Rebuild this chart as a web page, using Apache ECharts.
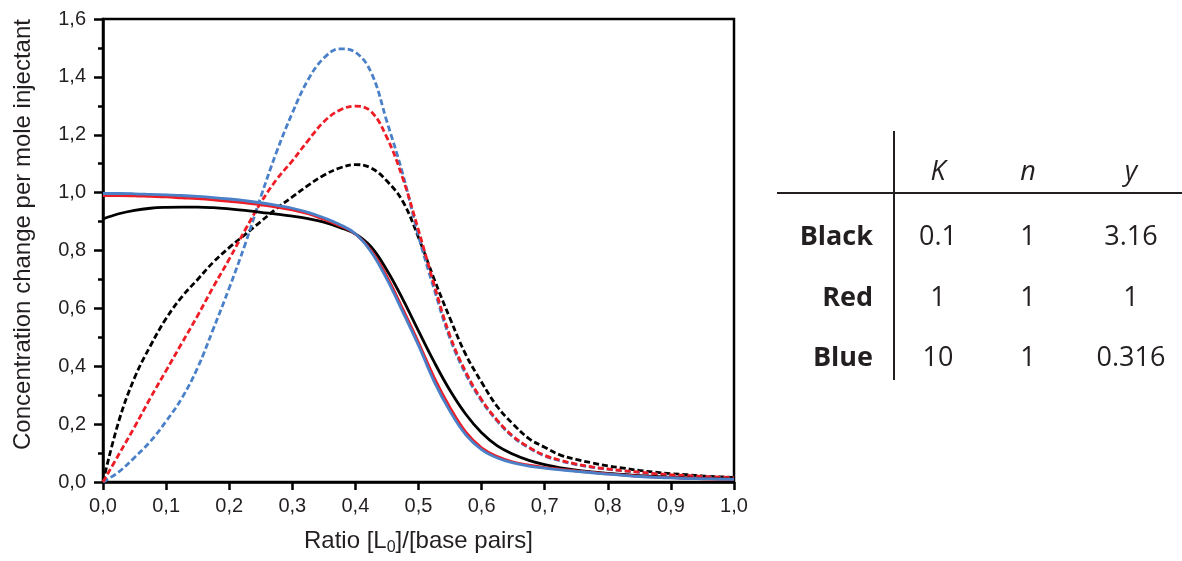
<!DOCTYPE html>
<html>
<head>
<meta charset="utf-8">
<script src="https://cdn.jsdelivr.net/npm/echarts@6/dist/echarts.min.js"></script>
<style>
html,body{margin:0;padding:0;background:#fff;}
#c{width:1182px;height:561px;}
</style>
</head>
<body>
<div id="c"></div>
<script>
// Ratio [L0]/[base pairs] sample positions
const xs = [0,0.025,0.05,0.075,0.1,0.125,0.15,0.175,0.2,0.225,0.25,0.275,0.3,0.325,0.35,0.375,0.4,0.425,0.45,0.475,0.5,0.525,0.55,0.575,0.6,0.625,0.65,0.675,0.7,0.725,0.75,0.775,0.8,0.825,0.85,0.875,0.9,0.925,0.95,0.975,1.0];

const blackSolid = [0.909,0.927,0.939,0.946,0.949,0.950,0.950,0.948,0.944,0.939,0.932,0.926,0.919,0.910,0.898,0.880,0.857,0.812,0.732,0.632,0.522,0.414,0.316,0.234,0.170,0.125,0.096,0.075,0.060,0.049,0.041,0.035,0.030,0.026,0.022,0.019,0.016,0.014,0.012,0.011,0.010];
const redSolid = [0.990,0.990,0.989,0.987,0.985,0.982,0.979,0.975,0.970,0.965,0.958,0.950,0.940,0.927,0.908,0.886,0.857,0.800,0.710,0.598,0.482,0.360,0.257,0.172,0.118,0.088,0.069,0.058,0.050,0.044,0.038,0.033,0.028,0.024,0.020,0.017,0.015,0.013,0.011,0.010,0.009];
const blueSolid = [0.997,0.997,0.996,0.994,0.992,0.990,0.987,0.983,0.978,0.972,0.965,0.956,0.946,0.932,0.913,0.890,0.858,0.795,0.700,0.588,0.472,0.346,0.244,0.163,0.112,0.083,0.066,0.055,0.048,0.042,0.037,0.032,0.027,0.023,0.019,0.016,0.014,0.012,0.011,0.010,0.009];

const blackDashed = [0,0.21,0.36,0.47,0.565,0.64,0.70,0.76,0.81,0.855,0.90,0.945,0.985,1.025,1.06,1.085,1.097,1.085,1.04,0.97,0.845,0.70,0.565,0.44,0.345,0.26,0.20,0.15,0.12,0.093,0.078,0.066,0.056,0.048,0.040,0.034,0.029,0.025,0.021,0.018,0.016];
const redDashed = [0,0.095,0.19,0.29,0.385,0.48,0.575,0.675,0.77,0.87,0.965,1.045,1.11,1.18,1.245,1.285,1.299,1.28,1.19,1.05,0.87,0.68,0.505,0.38,0.285,0.213,0.158,0.12,0.092,0.075,0.062,0.052,0.045,0.039,0.034,0.029,0.025,0.022,0.019,0.017,0.015];
const blueDashed = [0,0.035,0.085,0.14,0.21,0.29,0.395,0.53,0.67,0.82,0.985,1.14,1.275,1.39,1.465,1.497,1.485,1.415,1.245,1.065,0.85,0.665,0.495,0.372,0.28,0.21,0.155,0.118,0.09,0.073,0.06,0.051,0.044,0.038,0.033,0.028,0.024,0.021,0.018,0.016,0.014];

const xTickLabels = ['0,0','0,1','0,2','0,3','0,4','0,5','0,6','0,7','0,8','0,9','1,0'];
const yTickLabels = ['0,0','0,2','0,4','0,6','0,8','1,0','1,2','1,4','1,6'];

// Parameter table
const tableHeader = ['K','n','y'];
const tableRows = ['Black','Red','Blue'];
const tableK = ['0.1','1','10'];
const tableN = ['1','1','1'];
const tableY = ['3.16','1','0.316'];

const BLACK = '#000000', RED = '#ee1c25', BLUE = '#4a80c8';

function pairs(ys){ return xs.map((x,i)=>[x, ys[i]]); }
function line(name, ys, color, dashed, z){
  return {
    name, type:'line', data: pairs(ys), showSymbol:false, smooth:0.4, z,
    lineStyle:{color, width:2.8, type: dashed ? [6,3] : 'solid', cap:'butt'},
    animation:false
  };
}

const chart = echarts.init(document.getElementById('c'), null, {renderer:'canvas'});
const colX = [938, 1028, 1131];
const rowY = [237, 298, 358];
const graphics = [];
graphics.push({type:'line', shape:{x1:894,y1:131,x2:894,y2:380}, style:{stroke:'#231f20', lineWidth:2}});
graphics.push({type:'line', shape:{x1:777,y1:193,x2:1182,y2:193}, style:{stroke:'#231f20', lineWidth:2}});
tableHeader.forEach((t,i)=>graphics.push({type:'text', x:colX[i], y:172, style:{text:t, fill:'#231f20', font:'italic 27px "Open Sans"', textAlign:'center', textVerticalAlign:'middle'}}));
tableRows.forEach((t,i)=>{
  graphics.push({type:'text', x:873, y:rowY[i], style:{text:t, fill:'#231f20', font:'bold 27px "Open Sans"', textAlign:'right', textVerticalAlign:'middle'}});
  [tableK, tableN, tableY].forEach((col,j)=>graphics.push({type:'text', x:colX[j], y:rowY[i], style:{text:col[i], fill:'#231f20', font:'27px "Open Sans"', textAlign:'center', textVerticalAlign:'middle'}}));
});

const LAB = {fontFamily:'Liberation Sans', fontSize:20, color:'#231f20'};

chart.setOption({
  animation:false,
  backgroundColor:'#ffffff',
  grid:{left:103, right:448, top:19, bottom:79, show:true, borderColor:'#000', borderWidth:2.5, backgroundColor:'transparent'},
  xAxis:{
    type:'value', min:0, max:1, interval:0.1,
    name:'Ratio [L{sub|0}]/[base pairs]', nameLocation:'middle', nameGap:44,
    nameTextStyle:{fontFamily:'Liberation Sans', fontSize:24, color:'#231f20',
      rich:{sub:{fontFamily:'Liberation Sans', fontSize:16, color:'#231f20', verticalAlign:'bottom', padding:[14,0,0,0]}}},
    axisLine:{show:true, onZero:false, lineStyle:{color:'#000', width:2.5}},
    axisTick:{show:true, inside:false, length:8, lineStyle:{color:'#000', width:2.5}},
    minorTick:{show:false},
    splitLine:{show:false},
    axisLabel:Object.assign({margin:14, formatter:(v)=>xTickLabels[Math.round(v*10)]}, LAB)
  },
  yAxis:{
    type:'value', min:0, max:1.6, interval:0.2,
    name:'Concentration change per mole injectant', nameLocation:'middle', nameGap:68, nameRotate:90,
    nameTextStyle:{fontFamily:'Liberation Sans', fontSize:24, color:'#231f20', padding:[0,0,0,32]},
    axisLine:{show:true, onZero:false, lineStyle:{color:'#000', width:2.5}},
    axisTick:{show:true, inside:false, length:9, lineStyle:{color:'#000', width:2.5}},
    minorTick:{show:true, splitNumber:2, length:5, lineStyle:{color:'#000', width:2.5}},
    splitLine:{show:false},
    axisLabel:Object.assign({margin:17, formatter:(v)=>yTickLabels[Math.round(v*5)]}, LAB)
  },
  series:[
    line('Black dashed', blackDashed, BLACK, true, 2),
    line('Blue dashed', blueDashed, BLUE, true, 3),
    line('Red dashed', redDashed, RED, true, 4),
    line('Black solid', blackSolid, BLACK, false, 5),
    line('Red solid', redSolid, RED, false, 6),
    line('Blue solid', blueSolid, BLUE, false, 7)
  ],
  graphic: graphics
});
</script>
</body>
</html>
